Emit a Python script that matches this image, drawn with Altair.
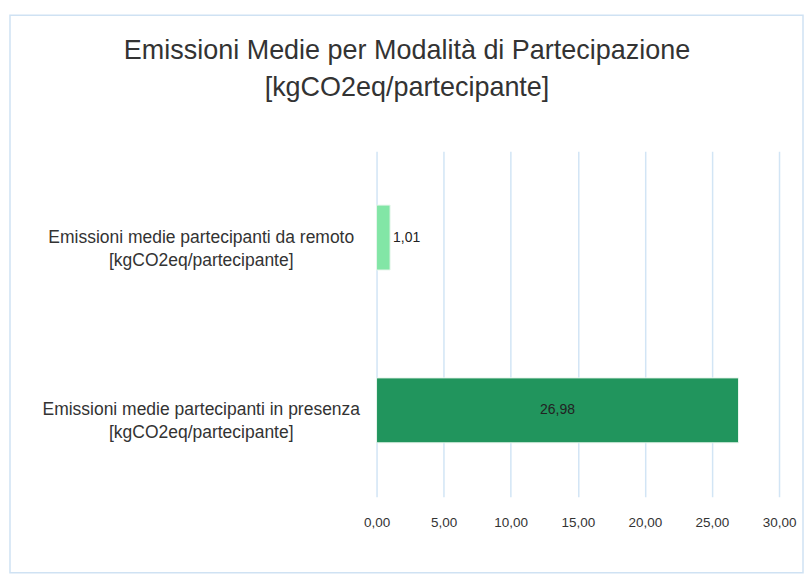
import altair as alt
import pandas as pd

categories = [
    "Emissioni medie partecipanti da remoto\n[kgCO2eq/partecipante]",
    "Emissioni medie partecipanti in presenza\n[kgCO2eq/partecipante]",
]
values = [1.01, 26.98]
colors = ["#82e6a6", "#21955d"]
x_ticks = [0, 5, 10, 15, 20, 25, 30]

df = pd.DataFrame({"cat": categories, "val": values, "col": colors})
df["lbl"] = [f"{v:.2f}".replace(".", ",") for v in values]

FONT = "Liberation Sans"
W, H = 403, 346

y_enc = alt.Y(
    "cat:N",
    sort=categories,
    title=None,
    axis=alt.Axis(
        labelExpr="split(datum.label, '\\n')",
        labelAlign="center",
        labelBaseline="middle",
        labelPadding=176,
        labelLimit=500,
        labelFont=FONT,
        labelFontSize=17.5,
        labelLineHeight=23,
        labelColor="#333333",
        ticks=False,
        domain=False,
        grid=False,
    ),
)
x_enc = alt.X(
    "val:Q",
    scale=alt.Scale(domain=[0, 30], nice=False),
    title=None,
    axis=alt.Axis(
        values=x_ticks,
        labelExpr="replace(format(datum.value, '.2f'), '.', ',')",
        labelFont=FONT,
        labelFontSize=13.5,
        labelColor="#333333",
        labelPadding=19,
        labelFlush=False,
        ticks=False,
        domain=False,
        grid=True,
        gridColor="#d2e5f5",
        gridWidth=1.5,
    ),
)

bars = alt.Chart(df).mark_bar(size=65, stroke="#e8f5ec", strokeWidth=1).encode(
    x=x_enc,
    y=y_enc,
    color=alt.Color("col:N", scale=None),
)

lbl_out = alt.Chart(df).transform_filter(alt.datum.val < 5).mark_text(
    align="left", baseline="middle", dx=3, font=FONT, fontSize=14, color="#222222"
).encode(x="val:Q", y=alt.Y("cat:N", sort=categories), text="lbl:N")

lbl_in = alt.Chart(df).transform_filter(alt.datum.val >= 5).transform_calculate(
    mid="datum.val / 2"
).mark_text(
    align="center", baseline="middle", font=FONT, fontSize=14, color="#222222"
).encode(x="mid:Q", y=alt.Y("cat:N", sort=categories), text="lbl:N")

frame = alt.Chart(pd.DataFrame({"a": [0]})).mark_rect(
    fill=None, stroke="#cfe2f3", strokeWidth=1.5
).encode(
    x=alt.value(-367), x2=alt.value(427), y=alt.value(-136), y2=alt.value(422)
)

chart = alt.layer(frame, bars, lbl_out, lbl_in).properties(
    width=W,
    height=H,
    padding={"left": 1, "top": 6, "right": 0, "bottom": 0},
    title=alt.TitleParams(
        text=["Emissioni Medie per Modalità di Partecipazione", "[kgCO2eq/partecipante]"],
        font=FONT,
        fontSize=27,
        fontWeight="normal",
        color="#333333",
        lineHeight=38,
        frame="group",
        anchor="middle",
        baseline="top",
        offset=-88,
        dx=-171,
    ),
).configure(background="white").configure_view(stroke=None)

chart.save("out.html", embed_options={"renderer": "svg", "actions": False})
